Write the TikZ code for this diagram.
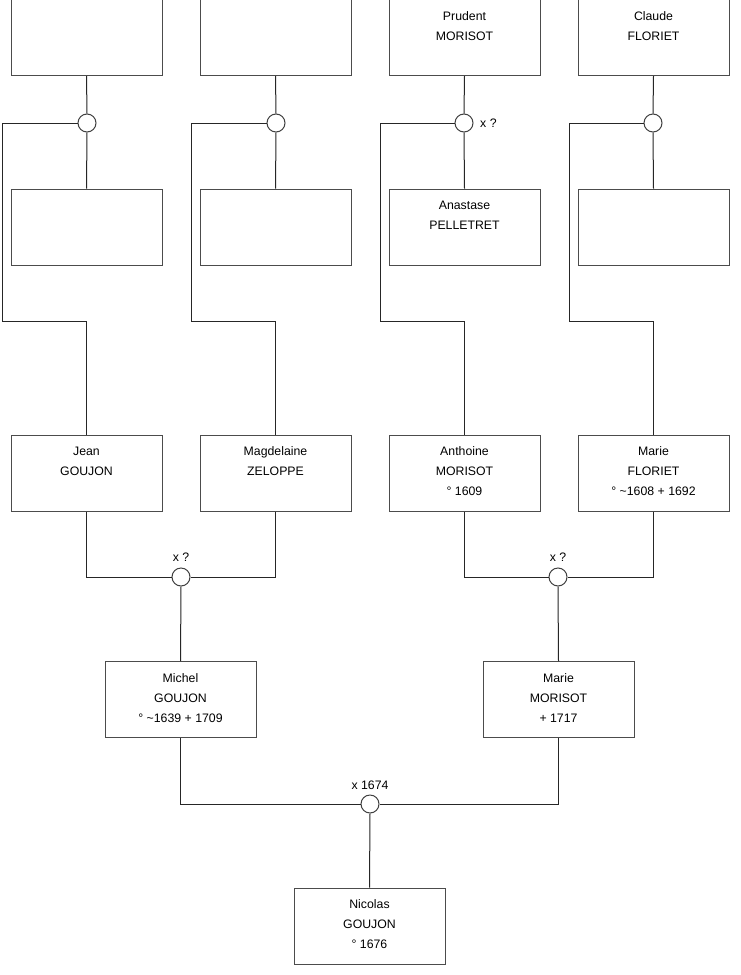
\documentclass[tikz,border=0pt]{standalone}
\usepackage{fontspec}
\setmainfont{Liberation Sans}
\begin{document}
\begin{tikzpicture}[x=1pt,y=-1pt,
  pbox/.style={draw=black!70, line width=1pt, minimum width=151pt, minimum height=76pt, inner sep=0pt, fill=white},
  ptext/.style={anchor=north, inner sep=0pt, align=center, font=\fontsize{12.3}{20}\selectfont, yshift=-12pt},
  junc/.style={circle, draw=black!75, line width=1pt, minimum size=18pt, inner sep=0pt, fill=white},
  conn/.style={draw=black!85, line width=1pt},
  mlabel/.style={font=\fontsize{12.3}{14}\selectfont, inner sep=0pt}]
\useasboundingbox (0,0) rectangle (740,975);
\fill[white] (0,0) rectangle (740,975);
% top row
\node[pbox] (a1) at (86.5,37.5) {};
\node[pbox] (a2) at (275.5,37.5) {};
\node[pbox] (a3) at (464.5,37.5) {};
\node[ptext] at (a3.north) {Prudent\\MORISOT};
\node[pbox] (a4) at (653.5,37.5) {};
\node[ptext] at (a4.north) {Claude\\FLORIET};
% second row
\node[pbox] (b1) at (86.5,227) {};
\node[pbox] (b2) at (275.5,227) {};
\node[pbox] (b3) at (464.5,227) {};
\node[ptext] at (b3.north) {Anastase\\PELLETRET};
\node[pbox] (b4) at (653.5,227) {};
% third row
\node[pbox] (p1) at (86.5,473) {};
\node[ptext] at (p1.north) {Jean\\GOUJON};
\node[pbox] (p2) at (275.5,473) {};
\node[ptext] at (p2.north) {Magdelaine\\ZELOPPE};
\node[pbox] (p3) at (464.5,473) {};
\node[ptext] at (p3.north) {Anthoine\\MORISOT\\° 1609};
\node[pbox] (p4) at (653.5,473) {};
\node[ptext] at (p4.north) {Marie\\FLORIET\\° \textasciitilde1608 + 1692};
% fourth row
\node[pbox] (q1) at (180.5,699.5) {};
\node[ptext] at (q1.north) {Michel\\GOUJON\\° \textasciitilde1639 + 1709};
\node[pbox] (q2) at (558.5,699.5) {};
\node[ptext] at (q2.north) {Marie\\MORISOT\\+ 1717};
% bottom
\node[pbox] (r) at (369.5,926) {};
\node[ptext] at (r.north) {Nicolas\\GOUJON\\° 1676};
% junctions
\node[junc] (c1) at (87,123) {};
\node[junc] (c2) at (276,123) {};
\node[junc] (c3) at (464,123) {};
\node[junc] (c4) at (653,123) {};
\node[junc] (j1) at (181,577) {};
\node[junc] (j2) at (558,577) {};
\node[junc] (j0) at (370,804) {};
% labels
\node[mlabel, anchor=west] (l3) at (480,123) {x ?};
\node[mlabel] (lj1) at (181,557) {x ?};
\node[mlabel] (lj2) at (558,557) {x ?};
\node[mlabel] (lj0) at (370,785) {x 1674};
% corner coordinates
\coordinate (k1) at (2,321);
\coordinate (k2) at (191,321);
\coordinate (k3) at (380,321);
\coordinate (k4) at (569,321);
% connectors top
\foreach \i in {1,2,3,4}{
  \draw[conn] (a\i.south) -- (c\i.north);
  \draw[conn] (c\i.south) -- (b\i.north);
  \draw[conn] (c\i.west) -| (k\i) -| (p\i.north);
}
\draw[conn] (p1.south) |- (j1.west);
\draw[conn] (p2.south) |- (j1.east);
\draw[conn] (j1.south) -- (q1.north);
\draw[conn] (p3.south) |- (j2.west);
\draw[conn] (p4.south) |- (j2.east);
\draw[conn] (j2.south) -- (q2.north);
\draw[conn] (q1.south) |- (j0.west);
\draw[conn] (q2.south) |- (j0.east);
\draw[conn] (j0.south) -- (r.north);
\end{tikzpicture}
\end{document}
